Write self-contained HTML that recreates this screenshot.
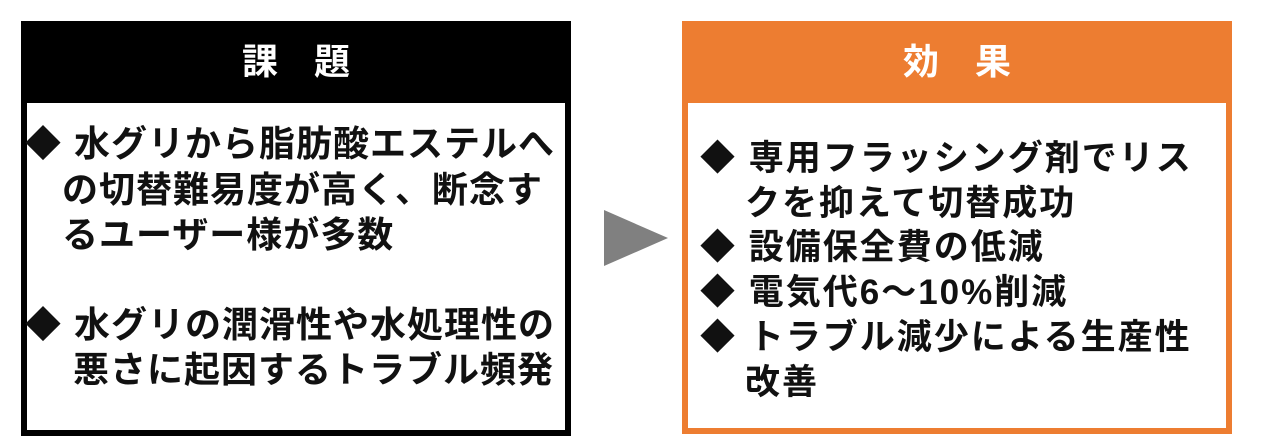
<!DOCTYPE html>
<html><head><meta charset="utf-8"><style>
body{margin:0;width:1280px;height:442px;background:#fff;position:relative;overflow:hidden;font-family:"Liberation Sans","Noto Sans CJK JP",sans-serif;font-weight:bold;}
.box{position:absolute;box-sizing:border-box;}
.hdr{position:absolute;color:#fff;font-size:36px;text-align:center;}
.t{position:absolute;white-space:nowrap;font-size:36px;letter-spacing:1px;color:#111;line-height:45px;}
.r{font-size:35px;letter-spacing:2px;}
</style></head><body>
<div class="box" style="left:21px;top:21px;width:550px;height:415px;border:6px solid #000;">
 <div class="hdr" style="background:#000;left:-6px;right:-6px;top:-6px;height:82px;line-height:82px;">課　題</div>
 <div class="t" style="left:-2px;top:94px;">◆<span style="margin-left:12px">水グリから脂肪酸エステルへ</span></div>
 <div class="t" style="left:35px;top:140px;">の切替難易度が高く、断念す</div>
 <div class="t" style="left:35px;top:185px;">るユーザー様が多数</div>
 <div class="t" style="left:-2px;top:275px;">◆<span style="margin-left:12px">水グリの潤滑性や水処理性の</span></div>
 <div class="t" style="left:46px;top:320px;">悪さに起因するトラブル頻発</div>
</div>
<svg style="position:absolute;left:0;top:0" width="1280" height="442"><polygon points="604,210 668,238 604,266" fill="#808080"/></svg>
<div class="box" style="left:682px;top:21px;width:550px;height:413px;border:6px solid #ED7D31;">
 <div class="hdr" style="background:#ED7D31;left:-6px;right:-6px;top:-6px;height:82px;line-height:82px;">効　果</div>
 <div class="t r" style="left:12px;top:109px;">◆ 専用フラッシング剤でリス</div>
 <div class="t r" style="left:57px;top:154px;">クを抑えて切替成功</div>
 <div class="t r" style="left:12px;top:198px;">◆ 設備保全費の低減</div>
 <div class="t r" style="left:12px;top:243px;">◆ 電気代6～10%削減</div>
 <div class="t r" style="left:12px;top:288px;">◆ トラブル減少による生産性</div>
 <div class="t r" style="left:57px;top:333px;">改善</div>
</div>
</body></html>
